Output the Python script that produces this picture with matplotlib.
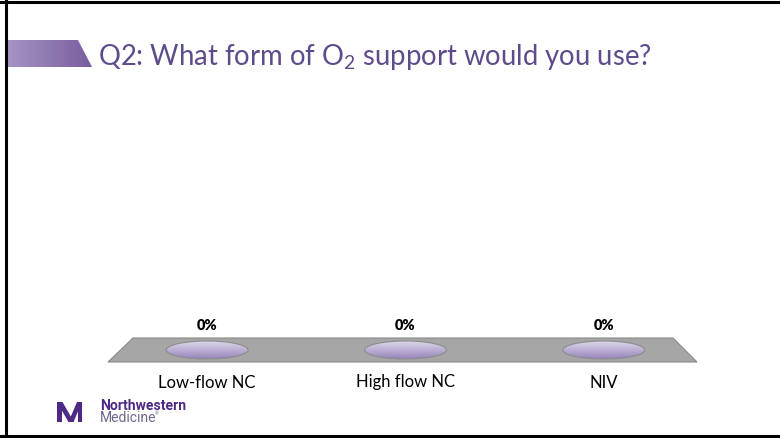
import numpy as np
import matplotlib.pyplot as plt
from matplotlib.patches import Polygon, Ellipse, Rectangle
from matplotlib.colors import LinearSegmentedColormap

# Datos de la encuesta
categorias = ["Low-flow NC", "High flow NC", "NIV"]
porcentajes = [0, 0, 0]
titulo = "Q2: What form of O$_\\mathregular{2}$ support would you use?"

plt.rcParams["font.family"] = ["Lato", "DejaVu Sans"]
plt.rcParams["mathtext.fontset"] = "custom"
plt.rcParams["mathtext.rm"] = "Lato"

morado = "#5f4b8b"
morado_nu = "#4e2a84"

fig = plt.figure(figsize=(7.8, 4.38), dpi=100)
fig.patch.set_facecolor("white")

# Fondo de la diapositiva en pixeles
bg = fig.add_axes([0, 0, 1, 1])
bg.set_xlim(0, 780)
bg.set_ylim(438, 0)
bg.axis("off")

# Marco negro
bg.plot([0, 780], [1.5, 1.5], color="black", lw=2.2)
bg.plot([5.5, 5.5], [0, 438], color="black", lw=2.2)
bg.plot([0, 780], [436, 436], color="black", lw=2.2)

# Banda del titulo con degradado
banda = Polygon([(7, 40), (78, 40), (92, 67), (7, 67)], closed=True,
                facecolor="none", edgecolor="none")
bg.add_patch(banda)
cmap_banda = LinearSegmentedColormap.from_list("banda", ["#a494c4", "#7a5e9f"])
grad = np.linspace(0, 1, 100).reshape(1, -1)
img = bg.imshow(grad, cmap=cmap_banda, extent=[7, 92, 67, 40], aspect="auto")
img.set_clip_path(banda)
bg.set_xlim(0, 780)
bg.set_ylim(438, 0)

bg.text(98, 57, titulo, fontsize=19.8, color=morado, va="center", ha="left")

# Piso del grafico
bg.add_patch(Polygon([(133, 338), (673, 338), (697, 362), (108, 362)], closed=True,
                     facecolor="#a6a6a6", edgecolor="#8a8a8a", lw=0.8))

# Logo
logo = [
    [(57, 402), (61.5, 402), (61.5, 422), (57, 422)],
    [(57, 402), (62.5, 402), (74, 422), (68.5, 422)],
    [(68.5, 422), (73.5, 422), (82, 402), (77, 402)],
    [(77.5, 402), (82, 402), (82, 422), (77.5, 422)],
]
for pts in logo:
    bg.add_patch(Polygon(pts, closed=True, facecolor=morado_nu, edgecolor="none"))
bg.text(100, 406, "Northwestern", fontsize=10.1, fontweight="bold", color=morado_nu,
        va="center", ha="left", family=["Roboto", "DejaVu Sans"])
bg.text(100, 418.5, "Medicine", fontsize=10.1, color="#6e6890",
        va="center", ha="left", family=["Roboto", "DejaVu Sans"])
bg.text(155, 414, "\u00ae", fontsize=3.5, color="#6e6890", va="center", ha="left")

# Ejes del grafico
ax = fig.add_axes([108 / 780, (438 - 362) / 438, 595 / 780, 262 / 438])
ax.patch.set_alpha(0)
x = np.arange(len(categorias))
ancho = 0.413
alto = 7.2

cmap_cil = LinearSegmentedColormap.from_list("cil", ["#9785bb", "#ddd6ea"])
for xi, v in zip(x, porcentajes):
    if v > 0:
        ax.add_patch(Rectangle((xi - ancho / 2, 0), ancho, v, facecolor="#a898c8",
                               edgecolor="#8c8c8c", lw=0.8))
    tapa = Ellipse((xi, v), ancho, alto, facecolor="none", edgecolor="#8c8c8c", lw=0.8,
                   zorder=3)
    ax.add_patch(tapa)
    gy = np.linspace(0, 1, 50).reshape(-1, 1)
    im = ax.imshow(gy, cmap=cmap_cil, origin="lower", aspect="auto", zorder=2,
                   extent=[xi - ancho / 2, xi + ancho / 2, v - alto / 2, v + alto / 2])
    im.set_clip_path(tapa)
    ax.annotate(f"{v:.0f}%", (xi, v), xytext=(0, 17.5), textcoords="offset points",
                ha="center", va="center", fontsize=10.5, fontweight="heavy", color="black")

ax.set_xlim(-0.5, 2.5)
ax.set_ylim(-4.8, 100)
ax.set_xticks(x)
ax.set_xticklabels(categorias, fontsize=12)
ax.tick_params(axis="x", length=0, pad=9)
ax.set_yticks([])
for s in ax.spines.values():
    s.set_visible(False)

plt.savefig("out.png", dpi=100)
